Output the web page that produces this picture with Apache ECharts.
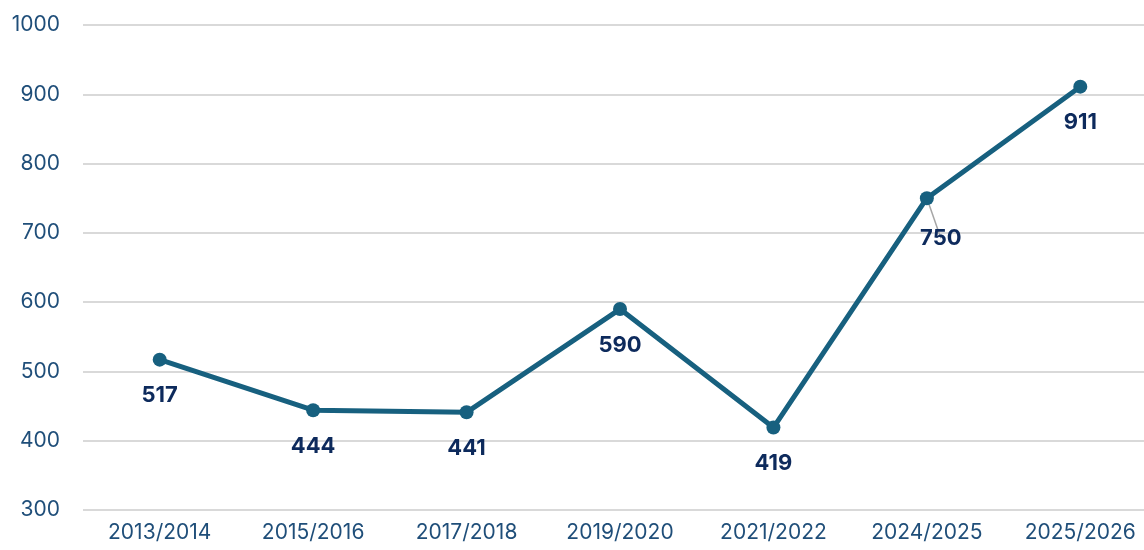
<!DOCTYPE html>
<html lang="en">
<head>
    <meta charset="utf-8">
    <title>line</title>
    <script src="https://cdn.jsdelivr.net/npm/echarts@6/dist/echarts.min.js"></script>
    <style>
        html, body { margin: 0; padding: 0; background: #fff; }
        #main { width: 1144px; height: 550px; }
    </style>
</head>
<body>
<div id="main"></div>
<script>
    // 数据
    var years = ['2013/2014', '2015/2016', '2017/2018', '2019/2020', '2021/2022', '2024/2025', '2025/2026'];
    var values = [517, 444, 441, 590, 419, 750, 911];

    var myChart = echarts.init(document.getElementById('main'));

    var seriesData = values.map(function (v, i) {
        if (i === 5) {
            // 这个标签在原图里被拖开了，有一条引线
            return {
                value: v,
                label: {offset: [14, 4]},
                labelLine: {show: true, lineStyle: {color: '#a6a6a6', width: 1.5}}
            };
        }
        return v;
    });

    var option = {
        animation: false,
        textStyle: {fontFamily: 'Inter'},
        grid: {left: 83, top: 25, bottom: 40, right: -13, outerBoundsMode: 'none'},
        xAxis: {
            type: 'category',
            data: years,
            boundaryGap: true,
            axisLine: {show: false},
            axisTick: {show: false},
            axisLabel: {color: '#1f4e79', fontSize: 21, margin: 12}
        },
        yAxis: {
            type: 'value',
            min: 300,
            max: 1000,
            interval: 100,
            axisLabel: {
                color: '#1f4e79', fontSize: 21, margin: 23,
                formatter: function (v) { return String(v); }
            },
            splitLine: {lineStyle: {color: '#d9d9d9', width: 2}}
        },
        series: [{
            type: 'line',
            data: seriesData,
            symbol: 'circle',
            symbolSize: 14,
            itemStyle: {color: '#17607f'},
            lineStyle: {color: '#17607f', width: 5},
            label: {
                show: true,
                position: 'bottom',
                distance: 18,
                color: '#0d2a5c',
                fontSize: 22,
                fontWeight: 'bold',
                fontFamily: 'Inter'
            }
        }]
    };

    myChart.setOption(option);
</script>
</body>
</html>
